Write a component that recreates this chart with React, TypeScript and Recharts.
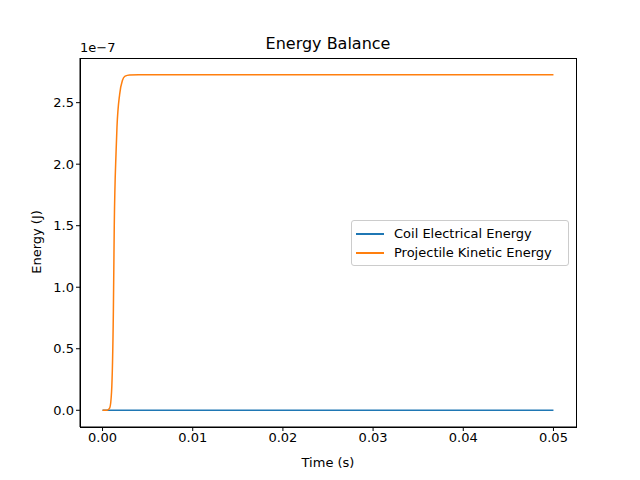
import React from 'react';
import { LineChart, Line, XAxis, YAxis } from 'recharts';

const times = [0, 0.0005, 0.0008, 0.001, 0.0012, 0.0013, 0.0015, 0.0016, 0.0019, 0.0022, 0.0025, 0.003, 0.004, 0.01, 0.02, 0.03, 0.04, 0.05];
const kinetic = [0, 0, 0.02, 0.15, 0.8, 1.5, 2.1, 2.3, 2.57, 2.68, 2.715, 2.725, 2.727, 2.727, 2.727, 2.727, 2.727, 2.727];
const coil = times.map(() => 0);
const xTicks = [0, 0.01, 0.02, 0.03, 0.04, 0.05];
const yTicks = [0, 0.5, 1.0, 1.5, 2.0, 2.5];

const data = times.map((t, i) => ({ t, coil: coil[i], kinetic: kinetic[i] }));

const font = 'DejaVu Sans, sans-serif';
const tickStyle = { fontSize: 13, fill: '#000', fontFamily: font };

const App: React.FC = () => (
  <div style={{ position: 'relative', width: 640, height: 480, margin: -8, background: '#fff', fontFamily: font }}>
    <LineChart width={640} height={480} data={data} margin={{ top: 58, right: 64, bottom: 0, left: 0 }}>
      <XAxis
        dataKey="t"
        type="number"
        domain={[-0.0025, 0.0525]}
        ticks={xTicks}
        tickFormatter={(v: number) => v.toFixed(2)}
        tick={tickStyle}
        tickLine={{ stroke: '#000' }}
        tickSize={4}
        axisLine={{ stroke: '#000' }}
        height={53}
        allowDataOverflow
      />
      <YAxis
        type="number"
        domain={[-0.136, 2.863]}
        ticks={yTicks}
        tickFormatter={(v: number) => v.toFixed(1)}
        tick={tickStyle}
        tickLine={{ stroke: '#000' }}
        tickSize={4}
        axisLine={{ stroke: '#000' }}
        width={80}
        allowDataOverflow
      />
      <Line dataKey="coil" stroke="#1f77b4" strokeWidth={1.5} dot={false} isAnimationActive={false} />
      <Line dataKey="kinetic" type="monotone" stroke="#ff7f0e" strokeWidth={1.5} dot={false} isAnimationActive={false} />
    </LineChart>
    <div style={{ position: 'absolute', left: 80, top: 58, width: 497, height: 370, border: '1px solid #000', boxSizing: 'border-box', pointerEvents: 'none' }} />
    <div style={{ position: 'absolute', left: 80, width: 496, top: 34, textAlign: 'center', fontSize: 16 }}>Energy Balance</div>
    <div style={{ position: 'absolute', left: 80, top: 40, fontSize: 13 }}>1e−7</div>
    <div style={{ position: 'absolute', left: 80, width: 496, top: 455, textAlign: 'center', fontSize: 13 }}>Time (s)</div>
    <div style={{ position: 'absolute', left: 36, top: 242, fontSize: 13, transform: 'translate(-50%,-50%) rotate(-90deg)', whiteSpace: 'nowrap' }}>Energy (J)</div>
    <div style={{ position: 'absolute', left: 351, top: 220, width: 218, height: 46, border: '1px solid #ccc', borderRadius: 3, background: '#fff', fontSize: 13, boxSizing: 'border-box', padding: '3px 4px' }}>
      {[['Coil Electrical Energy', '#1f77b4'], ['Projectile Kinetic Energy', '#ff7f0e']].map(([n, c]) => (
        <div key={n} style={{ display: 'flex', alignItems: 'center', height: 19 }}>
          <span style={{ width: 28, height: 2, background: c, marginRight: 10, display: 'inline-block' }} />
          {n}
        </div>
      ))}
    </div>
  </div>
);

export default App;
